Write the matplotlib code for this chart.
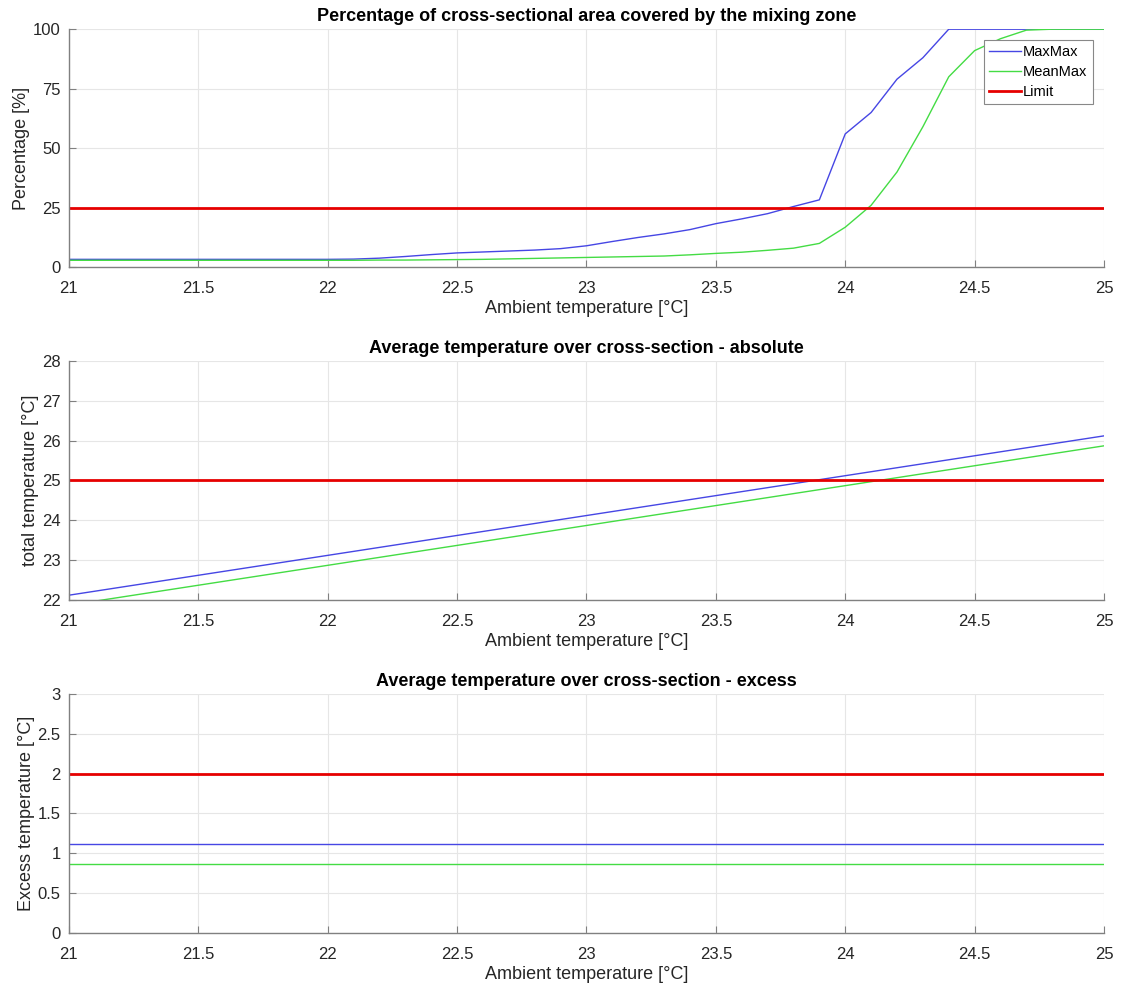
import numpy as np
import matplotlib.pyplot as plt
from matplotlib.ticker import FormatStrFormatter

plt.rcParams['font.family'] = ['Liberation Sans', 'DejaVu Sans']

# ambient temperature steps
t_amb = [21.0, 21.1, 21.2, 21.3, 21.4, 21.5, 21.6, 21.7, 21.8, 21.9,
         22.0, 22.1, 22.2, 22.3, 22.4, 22.5, 22.6, 22.7, 22.8, 22.9,
         23.0, 23.1, 23.2, 23.3, 23.4, 23.5, 23.6, 23.7, 23.8, 23.9,
         24.0, 24.1, 24.2, 24.3, 24.4, 24.5, 24.6, 24.7, 24.8, 24.9, 25.0]

# percentage of cross-section covered by mixing zone
pct_maxmax = [3.3, 3.3, 3.3, 3.3, 3.3, 3.3, 3.3, 3.3, 3.3, 3.3,
              3.3, 3.4, 3.8, 4.5, 5.3, 6.0, 6.4, 6.8, 7.2, 7.8,
              9.0, 10.8, 12.5, 14.0, 15.8, 18.3, 20.3, 22.5, 25.5, 28.3,
              56.0, 65.0, 79.0, 88.0, 100.0, 100.0, 100.0, 100.0, 100.0, 100.0, 100.0]
pct_meanmax = [2.9, 2.9, 2.9, 2.9, 2.9, 2.9, 2.9, 2.9, 2.9, 2.9,
               2.9, 2.9, 3.0, 3.0, 3.1, 3.2, 3.3, 3.5, 3.7, 3.9,
               4.1, 4.3, 4.5, 4.7, 5.2, 5.8, 6.3, 7.1, 8.0, 10.0,
               16.8, 26.0, 40.0, 59.0, 80.0, 91.0, 96.0, 99.6, 100.0, 100.0, 100.0]
pct_limit = 25

# average temperature over cross-section (absolute)
tot_maxmax = [22.12, 23.12, 24.12, 25.12, 26.12]
tot_meanmax = [21.87, 22.87, 23.87, 24.87, 25.87]
tot_x = [21, 22, 23, 24, 25]
tot_limit = 25

# excess temperature
exc_maxmax = 1.12
exc_meanmax = 0.87
exc_limit = 2

blue = '#4646e4'
green = '#44dc44'
red = '#e60000'
axcol = '#808080'
txtcol = '#262626'

fig = plt.figure(figsize=(11.3, 9.86), dpi=100)
ax1 = fig.add_axes([0.061, 0.729, 0.916, 0.2414])
ax2 = fig.add_axes([0.061, 0.3915, 0.916, 0.2424])
ax3 = fig.add_axes([0.061, 0.0538, 0.916, 0.2424])

ax1.plot(t_amb, pct_maxmax, color=blue, lw=1.0, label='MaxMax')
ax1.plot(t_amb, pct_meanmax, color=green, lw=1.0, label='MeanMax')
ax1.axhline(pct_limit, color=red, lw=2, label='Limit')
ax1.set_ylim(0, 100)
ax1.set_yticks([0, 25, 50, 75, 100])
ax1.set_ylabel('Percentage [%]')
ax1.set_title('Percentage of cross-sectional area covered by the mixing zone')
leg = ax1.legend(loc='upper right', bbox_to_anchor=(0.989, 0.954), fancybox=False,
                 framealpha=1, edgecolor='#888888', fontsize=10.5,
                 handlelength=2.2, borderpad=0.35, labelspacing=0.4,
                 handletextpad=0.15, borderaxespad=0)
leg.get_frame().set_linewidth(0.8)

ax2.plot(tot_x, tot_maxmax, color=blue, lw=1.0)
ax2.plot(tot_x, tot_meanmax, color=green, lw=1.0)
ax2.axhline(tot_limit, color=red, lw=2)
ax2.set_ylim(22, 28)
ax2.set_yticks(np.arange(22, 29, 1))
ax2.set_ylabel('total temperature [°C]')
ax2.set_title('Average temperature over cross-section - absolute')

ax3.axhline(exc_maxmax, color=blue, lw=1.0)
ax3.axhline(exc_meanmax, color=green, lw=1.0)
ax3.axhline(exc_limit, color=red, lw=2)
ax3.set_ylim(0, 3)
ax3.set_yticks(np.arange(0, 3.01, 0.5))
ax3.set_ylabel('Excess temperature [°C]')
ax3.set_title('Average temperature over cross-section - excess')

for ax in (ax1, ax2, ax3):
    ax.set_xlim(21, 25)
    ax.set_xticks(np.arange(21, 25.01, 0.5))
    ax.xaxis.set_major_formatter(FormatStrFormatter('%g'))
    ax.yaxis.set_major_formatter(FormatStrFormatter('%g'))
    ax.set_xlabel('Ambient temperature [°C]', fontsize=13, color=txtcol, labelpad=3)
    ax.yaxis.label.set_size(13)
    ax.yaxis.label.set_color(txtcol)
    ax.yaxis.labelpad = 2
    ax.title.set_fontsize(13)
    ax.title.set_fontweight('bold')
    ax.grid(True, color='#e6e6e6', lw=0.8)
    ax.set_axisbelow(True)
    for s in ('top', 'right'):
        ax.spines[s].set_visible(False)
    for s in ('left', 'bottom'):
        ax.spines[s].set_color(axcol)
        ax.spines[s].set_linewidth(1.0)
    ax.tick_params(direction='in', length=5, color=axcol, labelsize=12,
                   labelcolor=txtcol)
    ax.tick_params(axis='x', pad=10)
    ax.tick_params(axis='y', pad=6)

fig.savefig('out.png', dpi=100)
